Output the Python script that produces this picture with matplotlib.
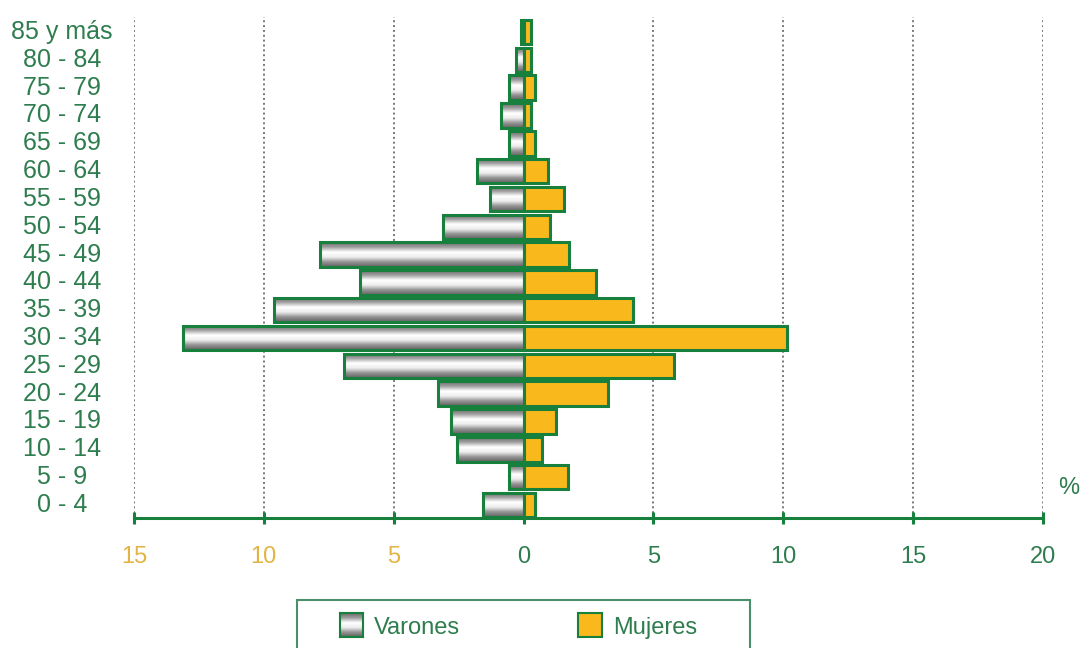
import numpy as np
import matplotlib.pyplot as plt
from matplotlib.colors import LinearSegmentedColormap
from matplotlib.patches import Rectangle

plt.rcParams['font.family'] = ['Liberation Sans', 'DejaVu Sans']

grupos = ['0 - 4', '5 - 9', '10 - 14', '15 - 19', '20 - 24', '25 - 29', '30 - 34',
          '35 - 39', '40 - 44', '45 - 49', '50 - 54', '55 - 59', '60 - 64',
          '65 - 69', '70 - 74', '75 - 79', '80 - 84', '85 y más']
varones = [1.55, 0.55, 2.55, 2.8, 3.3, 6.9, 13.1, 9.6, 6.3, 7.85, 3.1, 1.3, 1.8,
           0.55, 0.85, 0.55, 0.3, 0.1]
mujeres = [0.45, 1.7, 0.7, 1.25, 3.25, 5.8, 10.15, 4.2, 2.8, 1.75, 1.0, 1.55, 0.95,
           0.45, 0.3, 0.45, 0.3, 0.3]
xticks = [-15, -10, -5, 0, 5, 10, 15, 20]

verde = '#17803d'
verde_txt = '#2e7d4e'
oro = '#f9b81b'
oro_txt = '#e2b443'
cmap_gris = LinearSegmentedColormap.from_list(
    'gris', ['#6a6a6a', '#a0a0a0', '#ffffff', '#eeeeee', '#959595', '#626262'])
grad = np.linspace(0, 1, 64).reshape(-1, 1)

fig = plt.figure(figsize=(10.8, 6.48), dpi=100)
ax = fig.add_axes([134/1080, 1 - 518/648, (1043-134)/1080, (518-17)/648])

h = 0.88
y = np.arange(len(grupos))

# varones: relleno degradado + borde verde
for yi, v in zip(y, varones):
    ax.imshow(grad, cmap=cmap_gris, aspect='auto', origin='upper',
              extent=[-v, 0, yi - h/2, yi + h/2], zorder=2)
ax.barh(y, [-v for v in varones], height=h, facecolor='none',
        edgecolor=verde, linewidth=2.2, zorder=3)
ax.barh(y, mujeres, height=h, facecolor=oro, edgecolor=verde,
        linewidth=2.2, zorder=3)

ax.set_xlim(-15, 20)
ax.set_ylim(-0.47, 17.54)

for xv in xticks:
    if xv != 0:
        ax.axvline(xv, color='#777777', linestyle=(0, (1, 1.5)), linewidth=1.4, zorder=1)

for s in ['top', 'right', 'left']:
    ax.spines[s].set_visible(False)
ax.spines['bottom'].set_color(verde)
ax.spines['bottom'].set_linewidth(2.2)

ax.set_xticks(xticks)
ax.set_xticklabels([str(abs(v)) for v in xticks])
ax.tick_params(axis='x', direction='inout', length=9, width=2.2, color=verde,
               pad=16, labelsize=17)
for lab, v in zip(ax.get_xticklabels(), xticks):
    lab.set_color(oro_txt if v < 0 else verde_txt)

ax.set_yticks([])
for yi, g in zip(y, grupos):
    ax.text(-0.079, yi, g, transform=ax.get_yaxis_transform(), ha='center',
            va='center', fontsize=18, color=verde_txt)

fig.text(1069/1080, 1 - 488/648, '%', ha='center', va='center', fontsize=17, color=verde_txt)

# leyenda
fig.patches.append(Rectangle((297/1080, -0.05), (750-297)/1080, 0.05 + 48/648,
                             transform=fig.transFigure, facecolor='none',
                             edgecolor='#4a8f6a', linewidth=1.5))
lax = fig.add_axes([340/1080, 1 - 637/648, 23/1080, 24/648])
lax.imshow(grad, cmap=cmap_gris, aspect='auto')
lax.set_xticks([])
lax.set_yticks([])
for s in lax.spines.values():
    s.set_color(verde)
    s.set_linewidth(1.5)
fig.patches.append(Rectangle((578/1080, 1 - 637/648), 24/1080, 24/648,
                             transform=fig.transFigure, facecolor=oro,
                             edgecolor=verde, linewidth=1.5))
fig.text(374/1080, 1 - 628/648, 'Varones', ha='left', va='center', fontsize=17, color=verde_txt)
fig.text(613/1080, 1 - 628/648, 'Mujeres', ha='left', va='center', fontsize=17, color=verde_txt)

fig.savefig('out.png', dpi=100)
